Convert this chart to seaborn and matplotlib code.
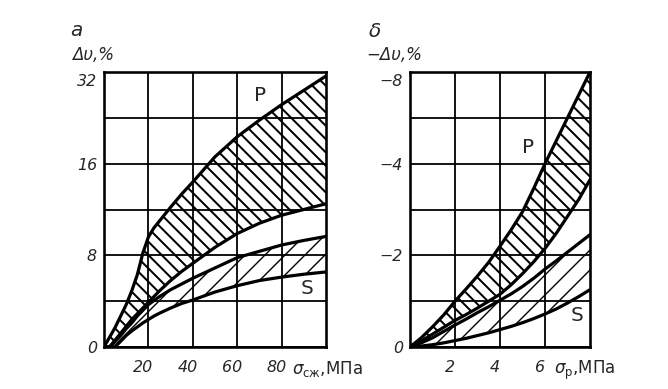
import numpy as np
import matplotlib
matplotlib.use("Agg")
import matplotlib.pyplot as plt
import seaborn as sns
from matplotlib.transforms import ScaledTranslation

# ---------------- data ----------------
# panel a: compression, x = sigma_szh (MPa), y = dv (%)
xa = [0, 2.5, 5, 7.5, 10, 12.5, 15, 17.5, 20, 22.5, 25, 30, 35, 40, 50, 60, 70, 80, 90, 100]
a_p_upper = [0, 0.85, 1.7, 2.7, 3.7, 4.9, 6.3, 8.2, 9.6, 10.4, 11.0, 12.2, 13.35, 14.4, 17.2, 20.7, 23.6, 26.3, 28.8, 31.3]
a_p_lower = [0, 0, 0.6, 1.2, 1.8, 2.4, 2.9, 3.4, 3.9, 4.4, 4.9, 5.8, 6.6, 7.3, 8.7, 9.9, 10.8, 11.5, 12.0, 12.5]
a_s_upper = [0, 0, 0.5, 1.0, 1.6, 2.1, 2.7, 3.2, 3.7, 4.05, 4.4, 5.0, 5.5, 6.0, 6.9, 7.8, 8.35, 8.9, 9.3, 9.65]
a_s_lower = [0, 0, 0, 0.5, 1.0, 1.4, 1.75, 2.1, 2.4, 2.7, 2.95, 3.4, 3.8, 4.1, 4.8, 5.35, 5.8, 6.1, 6.35, 6.55]

# panel b: tension, x = sigma_r (MPa), y = dv (%)
xb = [0, 0.5, 1, 1.5, 2, 2.5, 3, 3.5, 4, 4.5, 5, 5.5, 6, 6.5, 7, 7.5, 8]
b_p_upper = [0, -0.2, -0.44, -0.7, -1.0, -1.27, -1.55, -1.85, -2.2, -2.56, -2.95, -3.46, -4.0, -5.0, -6.0, -7.0, -8.0]
b_p_lower = [0, -0.13, -0.28, -0.43, -0.58, -0.71, -0.85, -1.0, -1.15, -1.36, -1.6, -1.86, -2.15, -2.48, -2.85, -3.22, -3.65]
b_s_upper = [0, -0.09, -0.2, -0.34, -0.48, -0.61, -0.75, -0.88, -1.02, -1.16, -1.32, -1.5, -1.7, -1.88, -2.07, -2.26, -2.45]
b_s_lower = [0, -0.02, -0.05, -0.09, -0.14, -0.19, -0.25, -0.31, -0.38, -0.45, -0.53, -0.62, -0.72, -0.83, -0.96, -1.1, -1.25]

a_xticks = [20, 40, 60, 80]
a_yticks = [0, 8, 16, 32]
a_yminor = [4, 12, 24]
a_yticklabels = ["0", "8", "16", "32"]
b_xticks = [2, 4, 6]
b_yticks = [0, -2, -4, -8]
b_yminor = [-1, -3, -6]
b_yticklabels = ["0", "\u22122", "\u22124", "\u22128"]

# ---------------- style ----------------
sns.set_style("white")
plt.rcParams["font.family"] = ["DejaVu Sans"]
plt.rcParams["mathtext.fontset"] = "dejavusans"

DPI = 120
W, H = 668, 389


def pt(px):
    return px * 72.0 / DPI


fig = plt.figure(figsize=(W / DPI, H / DPI), dpi=DPI)
fig.patch.set_facecolor("white")


def fwd_a(y):
    y = np.asarray(y, float)
    return np.where(y <= 16, y / 4.0, 4.0 + (y - 16.0) / 8.0)


def inv_a(p):
    p = np.asarray(p, float)
    return np.where(p <= 4, p * 4.0, 16.0 + (p - 4.0) * 8.0)


# increasing transform for negative values; axis is inverted via limits
def fwd_b(y):
    m = -np.asarray(y, float)
    return -np.where(m <= 4, m, 4.0 + (m - 4.0) / 2.0)


def inv_b(p):
    q = -np.asarray(p, float)
    return -np.where(q <= 4, q, 4.0 + (q - 4.0) * 2.0)


def band(ax, x, lo, hi, hatch, hlw):
    with plt.rc_context({"hatch.linewidth": hlw, "hatch.color": "black"}):
        coll = ax.fill_between(x, lo, hi, facecolor="none", edgecolor="black",
                               hatch=hatch, linewidth=0, zorder=2)
    if hasattr(coll, "set_hatch_linewidth"):
        coll.set_hatch_linewidth(hlw)
    return coll


axA = fig.add_axes([104 / W, 42 / H, 222 / W, 275 / H])
axB = fig.add_axes([410 / W, 42 / H, 180 / W, 275 / H])

panels = [
    (axA, fwd_a, inv_a, (0, 100), (0, 32), xa,
     (a_p_upper, a_p_lower, a_s_upper, a_s_lower),
     a_xticks, a_yticks, a_yticklabels, a_yminor),
    (axB, fwd_b, inv_b, (0, 8), (0, -8), xb,
     (b_p_upper, b_p_lower, b_s_upper, b_s_lower),
     b_xticks, b_yticks, b_yticklabels, b_yminor),
]

for ax, fwd, inv, xlim, ylim, x, (pu, pl, su, sl), xt, yt, ytl, ym in panels:
    ax.set_yscale("function", functions=(fwd, inv))
    ax.set_facecolor("white")

    band(ax, x, pl, pu, "\\\\\\", pt(2.0))
    band(ax, x, sl, su, "//", pt(1.4))

    for ycurve in (pu, pl, su, sl):
        sns.lineplot(x=x, y=ycurve, ax=ax, color="black", linewidth=pt(3.2),
                     sort=False, estimator=None, zorder=4)

    ax.set_xlim(*xlim)
    ax.set_ylim(*ylim)
    ax.set_xticks(xt)
    ax.set_xticklabels([str(v) for v in xt], fontstyle="italic", fontsize=9.5)
    ax.set_yticks(yt)
    ax.set_yticklabels(ytl, fontstyle="italic", fontsize=9.5)
    ax.set_yticks(ym, minor=True)
    ax.set_xticks([], minor=True)
    ax.grid(True, which="both", color="black", linewidth=pt(1.8), zorder=1)
    ax.set_axisbelow(True)
    ax.tick_params(axis="both", which="both", length=0)
    ax.tick_params(axis="x", pad=pt(13))
    ax.tick_params(axis="y", pad=pt(7))
    for s in ax.spines.values():
        s.set_visible(True)
        s.set_color("black")
        s.set_linewidth(pt(2.6))
        s.set_zorder(5)
    ax.set_xlabel("")
    ax.set_ylabel("")
    # small offsets of the tick labels as in the reference
    for lab in ax.get_xticklabels():
        lab.set_transform(lab.get_transform() +
                          ScaledTranslation(-5 / DPI, 0, fig.dpi_scale_trans))
    ylabs = ax.get_yticklabels()
    ylabs[-1].set_transform(ylabs[-1].get_transform() +
                            ScaledTranslation(0, -8 / DPI, fig.dpi_scale_trans))


def ftext(xpx, ypx, s, **kw):
    fig.text(xpx / W, 1 - ypx / H, s, **kw)


# panel letters and axis titles
ftext(70, 36, "a", fontstyle="italic", fontsize=12, ha="left", va="baseline")
ftext(72, 60, "\u0394\u03c5,%", fontstyle="italic", fontsize=10, ha="left", va="baseline")
ftext(369, 37, "\u03b4", fontstyle="italic", fontsize=12, ha="left", va="baseline")
ftext(366, 60, "\u2212\u0394\u03c5,%", fontstyle="italic", fontsize=10, ha="left", va="baseline")

# x-axis labels
ftext(292, 374, r"$\sigma_{\mathrm{сж}}$,МПа", fontsize=10, ha="left", va="baseline")
ftext(554, 374, r"$\sigma_{\mathrm{р}}$,МПа", fontsize=10, ha="left", va="baseline")

# curve family labels
axA.text(0.703, 0.913, "P", transform=axA.transAxes, fontsize=12, ha="center", va="center", zorder=6)
axA.text(0.914, 0.211, "S", transform=axA.transAxes, fontsize=12, ha="center", va="center", zorder=6)
axB.text(0.656, 0.727, "P", transform=axB.transAxes, fontsize=12, ha="center", va="center", zorder=6)
axB.text(0.928, 0.113, "S", transform=axB.transAxes, fontsize=12, ha="center", va="center", zorder=6)

fig.savefig("out.png", dpi=DPI, facecolor="white")
